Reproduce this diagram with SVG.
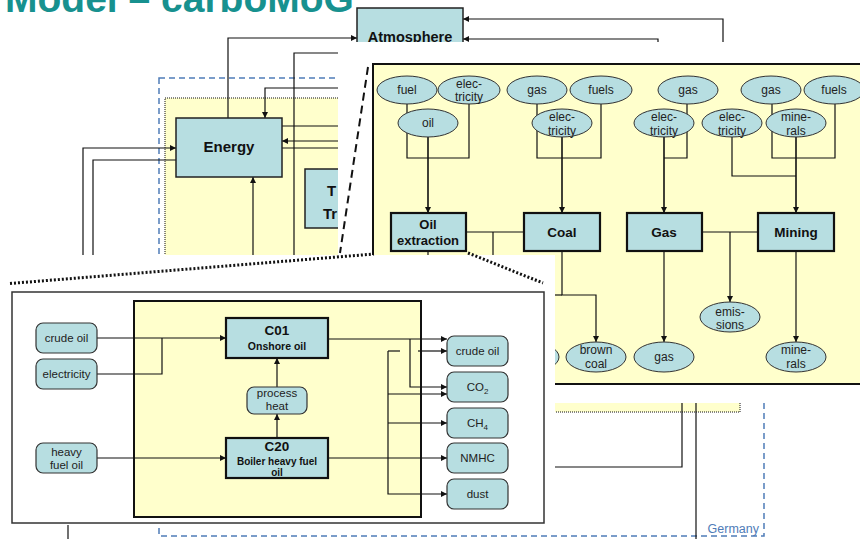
<svg xmlns="http://www.w3.org/2000/svg" width="860" height="539" viewBox="0 0 860 539">
<style>
text{font-family:"Liberation Sans",Arial,sans-serif;fill:#111}
.b{font-weight:bold}
.box{fill:#B7DEE1;stroke:#222;stroke-width:1.5}
.tbox{fill:#B7DEE1;stroke:#111;stroke-width:2.2}
.ell{fill:#B7DEE1;stroke:#333;stroke-width:1}
.rbox{fill:#B7DEE1;stroke:#333;stroke-width:1.2}
.ln{fill:none;stroke:#111;stroke-width:1.2}
.lnt{fill:none;stroke:#111;stroke-width:1.6}
.a{marker-end:url(#arr)}
.et{font-size:12px;text-anchor:middle;fill:#222}
.st{font-size:11.5px;text-anchor:middle;fill:#222}
</style>
<defs>
<marker id="arr" viewBox="0 0 10 10" refX="10" refY="5" markerWidth="7" markerHeight="6" orient="auto" markerUnits="userSpaceOnUse"><path d="M0,0 L10,5 L0,10 z" fill="#111"/></marker>
</defs>

<g id="background">
<text x="5" y="12" class="b" style="font-size:39px;fill:#17918F">Model – carboMoG</text>
<rect x="159" y="78" width="605" height="458" fill="none" stroke="#4F7CB8" stroke-width="1.5" stroke-dasharray="6,4"/>
<rect x="165" y="98" width="575" height="314" fill="#FFFFCC" stroke="#111" stroke-width="1" stroke-dasharray="1,1"/>
<text x="759" y="533" style="font-size:12.5px;fill:#4F7CB8;text-anchor:end">Germany</text>
</g>

<g id="bg-connectors">
<path class="ln a" d="M228,118 V38 H357"/>
<path class="ln" d="M294,255 V53 H345"/>
<path class="ln a" d="M345,88 H265 V118"/>
<path class="ln" d="M282,126 H345"/>
<path class="ln a" d="M345,141 H282"/>
<path class="ln" d="M282,148 H345"/>
<path class="ln a" d="M253,260 V177"/>
<path class="ln a" d="M83,260 V148 H176"/>
<path class="ln" d="M93,260 V160 H176"/>
<path class="ln a" d="M723,50 V19 H463"/>
<path class="ln a" d="M658,50 V39 H463"/>
<path class="ln" d="M682,390 V467 H540"/>
<path class="ln" d="M696,390 V539"/>
<path class="ln" d="M68,500 V539"/>
</g>

<g id="atmosphere">
<rect x="357" y="8" width="106" height="50" class="box"/>
<text x="410" y="42" class="b" style="font-size:14.5px;text-anchor:middle">Atmosphere</text>
</g>
<g id="energy">
<rect x="176" y="118" width="106" height="59" class="box"/>
<text x="229" y="152" class="b" style="font-size:15px;text-anchor:middle">Energy</text>
</g>
<g id="transport">
<rect x="305" y="169" width="70" height="59" class="box"/>
<text x="327" y="196" class="b" style="font-size:15px">T</text>
<text x="323" y="219" class="b" style="font-size:15px">Tr</text>
</g>

<g id="overlay-right">
<rect x="338" y="42" width="522" height="361" fill="#fff"/>
</g>
<line x1="368" y1="67" x2="340" y2="253" stroke="#111" stroke-width="2" stroke-dasharray="8,5"/>

<g id="panel-right">
<rect x="373" y="64" width="500" height="320" fill="#FFFFCC" stroke="#111" stroke-width="2"/>
</g>

<g id="right-connectors">
<path class="ln" d="M407,104 V158 H469 V104"/>
<path class="lnt a" d="M428,137 V213"/>
<path class="ln" d="M537,104 V158 H601 V104"/>
<path class="lnt a" d="M562,137 V213"/>
<path class="ln" d="M687,104 V158 H664"/>
<path class="lnt a" d="M664,137 V213"/>
<path class="ln" d="M772,104 V158 H835 V104"/>
<path class="ln" d="M732,137 V176 H796"/>
<path class="lnt a" d="M796,137 V213"/>
<path class="ln" d="M466,232 H524"/>
<path class="ln" d="M493,232 V262"/>
<path class="ln" d="M702,232 H758"/>
<path class="ln a" d="M730,232 V302"/>
<path class="ln" d="M428,251 V262"/>
<path class="ln a" d="M562,251 V295 H596 V342"/>
<path class="ln" d="M562,295 H540"/>
<path class="ln a" d="M664,251 V342"/>
<path class="ln a" d="M796,251 V342"/>
</g>

<g id="in-fuel"><ellipse cx="407" cy="90" rx="30" ry="14" class="ell"/><text x="407" y="94" class="et">fuel</text></g>
<g id="in-elec1"><ellipse cx="469" cy="90" rx="31" ry="14" class="ell"/><text x="469" y="88" class="et">elec-</text><text x="469" y="101" class="et">tricity</text></g>
<g id="in-gas1"><ellipse cx="537" cy="90" rx="30" ry="14" class="ell"/><text x="537" y="94" class="et">gas</text></g>
<g id="in-fuels1"><ellipse cx="601" cy="90" rx="31" ry="14" class="ell"/><text x="601" y="94" class="et">fuels</text></g>
<g id="in-gas2"><ellipse cx="688" cy="90" rx="30" ry="14" class="ell"/><text x="688" y="94" class="et">gas</text></g>
<g id="in-gas3"><ellipse cx="771" cy="90" rx="30" ry="14" class="ell"/><text x="771" y="94" class="et">gas</text></g>
<g id="in-fuels2"><ellipse cx="834" cy="90" rx="30" ry="14" class="ell"/><text x="834" y="94" class="et">fuels</text></g>
<g id="in-oil"><ellipse cx="428" cy="123" rx="30" ry="14" class="ell"/><text x="428" y="127" class="et">oil</text></g>
<g id="in-elec2"><ellipse cx="562" cy="123" rx="30" ry="14" class="ell"/><text x="562" y="121" class="et">elec-</text><text x="562" y="135" class="et">tricity</text></g>
<g id="in-elec3"><ellipse cx="664" cy="123" rx="30" ry="14" class="ell"/><text x="664" y="121" class="et">elec-</text><text x="664" y="135" class="et">tricity</text></g>
<g id="in-elec4"><ellipse cx="732" cy="123" rx="30" ry="14" class="ell"/><text x="732" y="121" class="et">elec-</text><text x="732" y="135" class="et">tricity</text></g>
<g id="in-minerals"><ellipse cx="796" cy="123" rx="30" ry="14" class="ell"/><text x="796" y="121" class="et">mine-</text><text x="796" y="135" class="et">rals</text></g>

<g id="oil-extraction"><rect x="391" y="213" width="75" height="38" class="tbox"/><text x="428" y="229" class="b" style="font-size:13px;text-anchor:middle">Oil</text><text x="428" y="245" class="b" style="font-size:13px;text-anchor:middle">extraction</text></g>
<g id="coal"><rect x="524" y="213" width="76" height="38" class="tbox"/><text x="562" y="237" class="b" style="font-size:13.5px;text-anchor:middle">Coal</text></g>
<g id="gas"><rect x="627" y="213" width="75" height="38" class="tbox"/><text x="664" y="237" class="b" style="font-size:13.5px;text-anchor:middle">Gas</text></g>
<g id="mining"><rect x="758" y="213" width="76" height="38" class="tbox"/><text x="796" y="237" class="b" style="font-size:13.5px;text-anchor:middle">Mining</text></g>

<g id="out-emissions"><ellipse cx="730" cy="317" rx="30" ry="15" class="ell"/><text x="730" y="316" class="et">emis-</text><text x="730" y="329" class="et">sions</text></g>
<g id="out-hidden"><ellipse cx="529" cy="357" rx="30" ry="15" class="ell"/></g>
<g id="out-browncoal"><ellipse cx="596" cy="357" rx="30" ry="15" class="ell"/><text x="596" y="354" class="et">brown</text><text x="596" y="368" class="et">coal</text></g>
<g id="out-gas"><ellipse cx="664" cy="357" rx="30" ry="15" class="ell"/><text x="664" y="361" class="et">gas</text></g>
<g id="out-minerals"><ellipse cx="796" cy="357" rx="30" ry="15" class="ell"/><text x="796" y="354" class="et">mine-</text><text x="796" y="368" class="et">rals</text></g>

<g id="overlay-bottom">
<rect x="0" y="255" width="555" height="270" fill="#fff"/>
<rect x="12" y="292" width="532" height="231" fill="#fff" stroke="#333" stroke-width="1.5"/>
<rect x="134" y="301" width="287" height="216" fill="#FFFFCC" stroke="#111" stroke-width="2"/>
</g>
<line x1="10" y1="283.5" x2="374" y2="254" stroke="#111" stroke-width="3" stroke-dasharray="2,2"/>
<line x1="468" y1="253" x2="543" y2="283" stroke="#111" stroke-width="3" stroke-dasharray="2,2"/>

<g id="detail-connectors">
<path class="ln a" d="M97,338 H226"/>
<path class="ln" d="M97,374 H162 V338"/>
<path class="ln a" d="M97,458 H226"/>
<path class="ln a" d="M277,387 V358"/>
<path class="ln a" d="M277,438 V414"/>
<path class="ln a" d="M328,339 H447"/>
<path class="ln a" d="M410,339 V387 H447"/>
<path class="ln" d="M388,351 H400"/>
<path class="ln a" d="M418,351 H447"/>
<path class="ln a" d="M388,351 V494 H447"/>
<path class="ln a" d="M388,394 H447"/>
<path class="ln a" d="M388,423 H447"/>
<path class="ln a" d="M328,458 H447"/>
</g>

<g id="d-crudeoil-in"><rect x="36" y="323" width="61" height="30" rx="7" class="rbox"/><text x="66.5" y="342" class="st">crude oil</text></g>
<g id="d-electricity"><rect x="36" y="359" width="61" height="30" rx="7" class="rbox"/><text x="66.5" y="378" class="st">electricity</text></g>
<g id="d-heavyfueloil"><rect x="36" y="443" width="61" height="30" rx="7" class="rbox"/><text x="66.5" y="456" class="st">heavy</text><text x="66.5" y="469" class="st">fuel oil</text></g>
<g id="d-c01"><rect x="226" y="318" width="102" height="40" class="tbox"/><text x="277" y="335" class="b" style="font-size:13.5px;text-anchor:middle">C01</text><text x="277" y="350" class="b" style="font-size:10.5px;text-anchor:middle">Onshore oil</text></g>
<g id="d-processheat"><rect x="247" y="387" width="60" height="27" rx="7" class="rbox"/><text x="277" y="397" class="st">process</text><text x="277" y="410" class="st">heat</text></g>
<g id="d-c20"><rect x="226" y="438" width="102" height="40" class="tbox"/><text x="277" y="451" class="b" style="font-size:13.5px;text-anchor:middle">C20</text><text x="277" y="465" class="b" style="font-size:10px;text-anchor:middle">Boiler heavy fuel</text><text x="277" y="476" class="b" style="font-size:10px;text-anchor:middle">oil</text></g>
<g id="d-crudeoil-out"><rect x="447" y="336" width="61" height="30" rx="7" class="rbox"/><text x="477.5" y="355" class="st">crude oil</text></g>
<g id="d-co2"><rect x="447" y="372" width="61" height="30" rx="7" class="rbox"/><text x="477.5" y="391" class="st">CO<tspan style="font-size:8px" dy="3">2</tspan></text></g>
<g id="d-ch4"><rect x="447" y="408" width="61" height="30" rx="7" class="rbox"/><text x="477.5" y="427" class="st">CH<tspan style="font-size:8px" dy="3">4</tspan></text></g>
<g id="d-nmhc"><rect x="447" y="443" width="61" height="30" rx="7" class="rbox"/><text x="477.5" y="462" class="st">NMHC</text></g>
<g id="d-dust"><rect x="447" y="479" width="61" height="30" rx="7" class="rbox"/><text x="477.5" y="498" class="st">dust</text></g>
</svg>
